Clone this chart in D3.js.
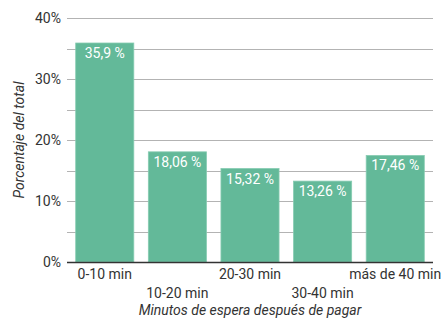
<!DOCTYPE html>
<html>
<head>
<meta charset="utf-8">
<script src="https://cdn.jsdelivr.net/npm/d3@7"></script>
<style>
  html, body { margin: 0; padding: 0; background: #fff; }
  svg { display: block; font-family: Roboto, "Noto Sans", sans-serif; }
</style>
</head>
<body>
<svg id="chart" width="447" height="322"></svg>
<script>
// Waiting time after payment, share of total
const categories = ["0-10 min", "10-20 min", "20-30 min", "30-40 min", "más de 40 min"];
const values = [35.9, 18.06, 15.32, 13.26, 17.46];
const valueLabels = ["35,9 %", "18,06 %", "15,32 %", "13,26 %", "17,46 %"];
const yTicks = [0, 10, 20, 30, 40];
const yMinorTicks = [5, 15, 25, 35];

const svg = d3.select("#chart");
const margin = { left: 67, right: 14, top: 18, bottom: 60 };
const W = 447, H = 322;

const x = d3.scaleBand()
  .domain(categories)
  .range([margin.left, W - margin.right])
  .paddingInner(0.2)
  .paddingOuter(0.12);

const y = d3.scaleLinear()
  .domain([0, 40])
  .range([H - margin.bottom, margin.top]);

// gridlines
svg.append("g").selectAll("line")
  .data(yTicks.slice(1).concat(yMinorTicks))
  .join("line")
  .attr("x1", margin.left).attr("x2", W - margin.right)
  .attr("y1", d => Math.round(y(d)) + 0.5).attr("y2", d => Math.round(y(d)) + 0.5)
  .attr("stroke", "#b3b3b3").attr("stroke-width", 1.2);

// y tick labels
svg.append("g").selectAll("text")
  .data(yTicks)
  .join("text")
  .attr("x", margin.left - 6)
  .attr("y", d => y(d))
  .attr("dy", "0.35em")
  .attr("text-anchor", "end")
  .attr("fill", "#333")
  .attr("font-size", 14)
  .text(d => d + "%");

// bars
svg.append("g").selectAll("rect")
  .data(values)
  .join("rect")
  .attr("x", (d, i) => x(categories[i]))
  .attr("y", d => y(d))
  .attr("width", x.bandwidth())
  .attr("height", d => y(0) - y(d))
  .attr("fill", "#63b999")
  .attr("stroke", "#86cbb1")
  .attr("stroke-width", 0.8);

// value labels
svg.append("g").selectAll("text")
  .data(values)
  .join("text")
  .attr("x", (d, i) => x(categories[i]) + x.bandwidth() / 2)
  .attr("y", d => y(d) + 15)
  .attr("text-anchor", "middle")
  .attr("fill", "#fff")
  .attr("font-size", 14)
  .text((d, i) => valueLabels[i]);

// baseline
svg.append("line")
  .attr("x1", margin.left).attr("x2", W - margin.right)
  .attr("y1", y(0) + 0.5).attr("y2", y(0) + 0.5)
  .attr("stroke", "#333").attr("stroke-width", 1.3);

// x labels, staggered on two rows
svg.append("g").selectAll("text")
  .data(categories)
  .join("text")
  .attr("x", d => x(d) + x.bandwidth() / 2)
  .attr("y", (d, i) => y(0) + (i % 2 === 0 ? 17 : 36))
  .attr("text-anchor", "middle")
  .attr("fill", "#333")
  .attr("font-size", 14)
  .text(d => d);

// axis titles
svg.append("text")
  .attr("x", (margin.left + W - margin.right) / 2)
  .attr("y", 315)
  .attr("text-anchor", "middle")
  .attr("font-style", "italic")
  .attr("fill", "#333")
  .attr("font-size", 14)
  .text("Minutos de espera después de pagar");

svg.append("text")
  .attr("transform", `translate(24, ${(y(0) + y(40)) / 2}) rotate(-90)`)
  .attr("text-anchor", "middle")
  .attr("font-style", "italic")
  .attr("fill", "#333")
  .attr("font-size", 14)
  .text("Porcentaje del total");
</script>
</body>
</html>
